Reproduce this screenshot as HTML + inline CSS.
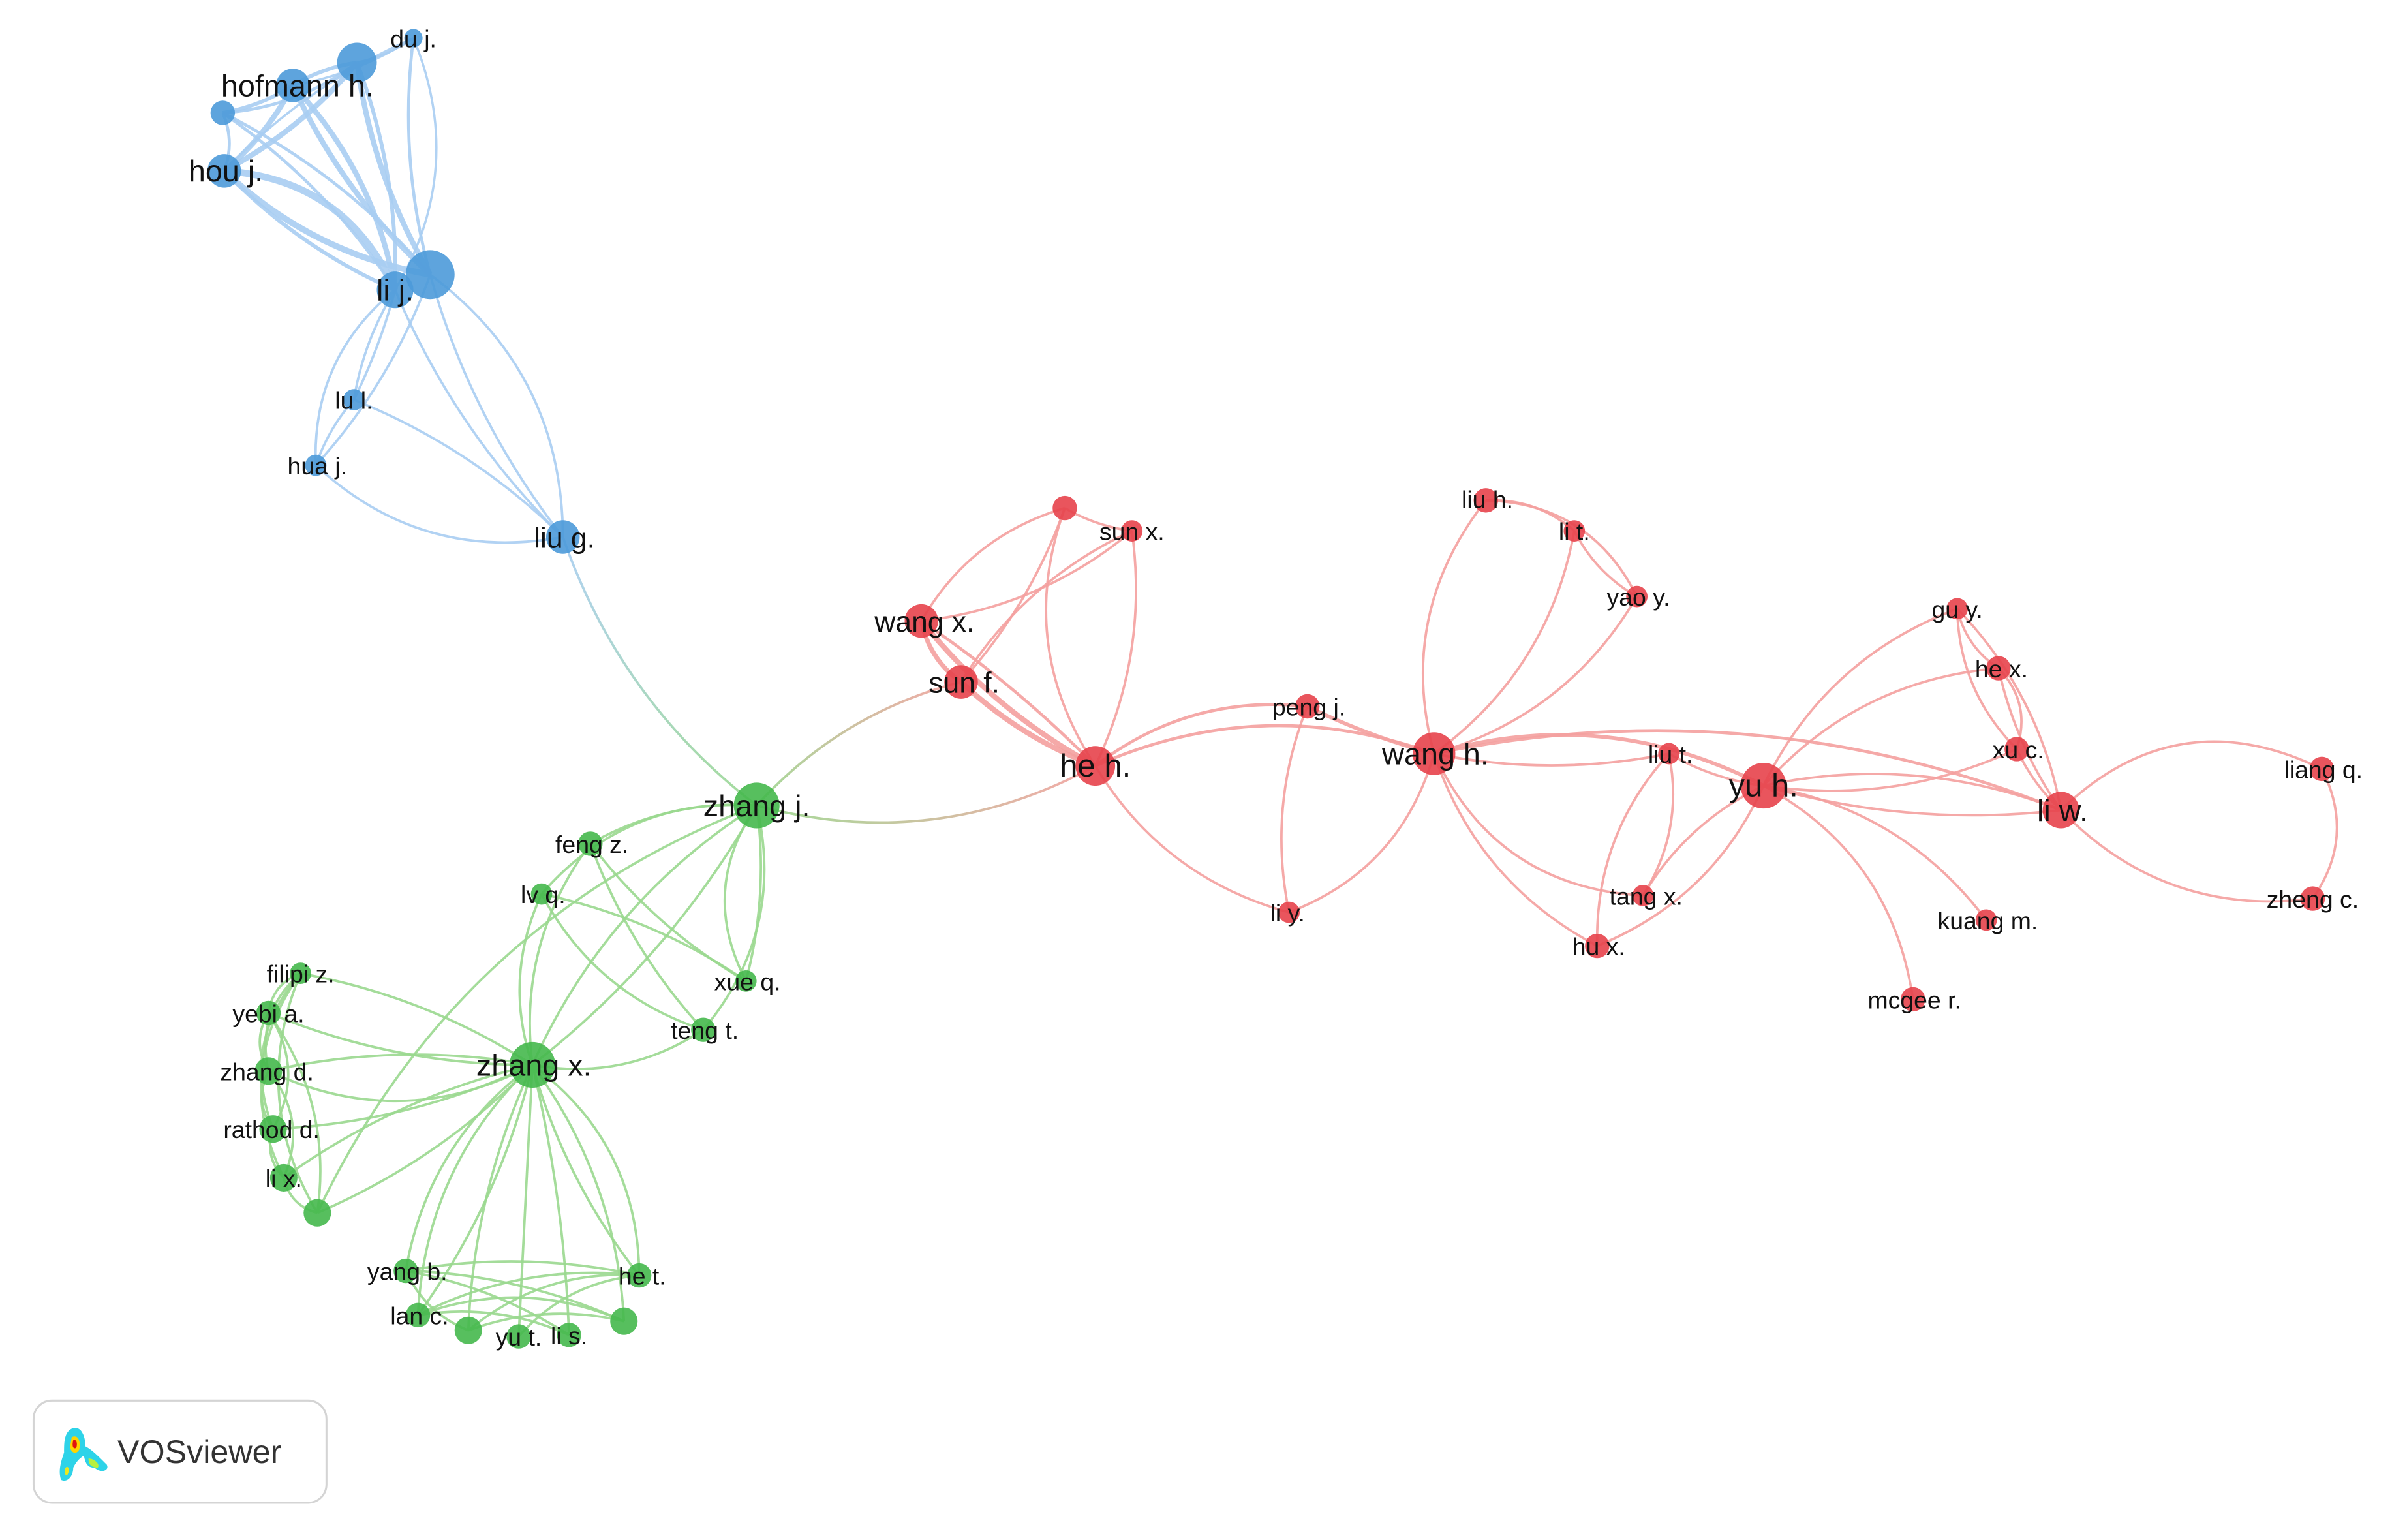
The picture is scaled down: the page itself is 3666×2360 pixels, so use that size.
<!DOCTYPE html>
<html><head><meta charset="utf-8">
<style>
html,body{margin:0;padding:0;background:#fff;}
svg{display:block;}
text{font-family:"Liberation Sans","DejaVu Sans",sans-serif;fill:#111;}
</style></head>
<body>
<svg id="g" width="3666" height="2360" viewBox="0 0 1568 1009.4" preserveAspectRatio="none" xmlns="http://www.w3.org/2000/svg">
<defs>
<linearGradient id="bg" x1="369" y1="352" x2="496" y2="528" gradientUnits="userSpaceOnUse"><stop offset="0" stop-color="#a9cdf2"/><stop offset="1" stop-color="#9ad88f"/></linearGradient>
<linearGradient id="gr" x1="496" y1="528" x2="718" y2="502" gradientUnits="userSpaceOnUse"><stop offset="0" stop-color="#9ad88f"/><stop offset="1" stop-color="#f4a09f"/></linearGradient>
<linearGradient id="gr2" x1="496" y1="528" x2="630" y2="447" gradientUnits="userSpaceOnUse"><stop offset="0" stop-color="#9ad88f"/><stop offset="1" stop-color="#f4a09f"/></linearGradient>
</defs>
<g id="edges" fill="none"></g>
<g id="nodes"></g>
<g id="labels">
<text x="271" y="31" font-size="16" text-anchor="middle">du j.</text>
<text x="195" y="63" font-size="20" text-anchor="middle">hofmann h.</text>
<text x="148" y="119" font-size="20" text-anchor="middle">hou j.</text>
<text x="259" y="197" font-size="20" text-anchor="middle">li j.</text>
<text x="232" y="268" font-size="16" text-anchor="middle">lu l.</text>
<text x="208" y="311" font-size="16" text-anchor="middle">hua j.</text>
<text x="370" y="359" font-size="19" text-anchor="middle">liu g.</text>
<text x="742" y="354" font-size="16" text-anchor="middle">sun x.</text>
<text x="606" y="414" font-size="19" text-anchor="middle">wang x.</text>
<text x="632" y="454" font-size="19" text-anchor="middle">sun f.</text>
<text x="718" y="509" font-size="21" text-anchor="middle">he h.</text>
<text x="858" y="469" font-size="16" text-anchor="middle">peng j.</text>
<text x="941" y="501" font-size="20" text-anchor="middle">wang h.</text>
<text x="844" y="604" font-size="16" text-anchor="middle">li y.</text>
<text x="975" y="333" font-size="16" text-anchor="middle">liu h.</text>
<text x="1032" y="354" font-size="16" text-anchor="middle">li t.</text>
<text x="1074" y="397" font-size="16" text-anchor="middle">yao y.</text>
<text x="1095" y="500" font-size="16" text-anchor="middle">liu t.</text>
<text x="1079" y="593" font-size="16" text-anchor="middle">tang x.</text>
<text x="1048" y="626" font-size="16" text-anchor="middle">hu x.</text>
<text x="1156" y="522" font-size="21" text-anchor="middle">yu h.</text>
<text x="1283" y="405" font-size="16" text-anchor="middle">gu y.</text>
<text x="1312" y="444" font-size="16" text-anchor="middle">he x.</text>
<text x="1323" y="497" font-size="16" text-anchor="middle">xu c.</text>
<text x="1352" y="538" font-size="20" text-anchor="middle">li w.</text>
<text x="1303" y="609" font-size="16" text-anchor="middle">kuang m.</text>
<text x="1255" y="661" font-size="16" text-anchor="middle">mcgee r.</text>
<text x="1523" y="510" font-size="16" text-anchor="middle">liang q.</text>
<text x="1516" y="595" font-size="16" text-anchor="middle">zheng c.</text>
<text x="496" y="535" font-size="20" text-anchor="middle">zhang j.</text>
<text x="388" y="559" font-size="16" text-anchor="middle">feng z.</text>
<text x="356" y="592" font-size="16" text-anchor="middle">lv q.</text>
<text x="490" y="649" font-size="16" text-anchor="middle">xue q.</text>
<text x="462" y="681" font-size="16" text-anchor="middle">teng t.</text>
<text x="350" y="705" font-size="20" text-anchor="middle">zhang x.</text>
<text x="197" y="644" font-size="16" text-anchor="middle">filipi z.</text>
<text x="176" y="670" font-size="16" text-anchor="middle">yebi a.</text>
<text x="175" y="708" font-size="16" text-anchor="middle">zhang d.</text>
<text x="178" y="746" font-size="16" text-anchor="middle">rathod d.</text>
<text x="186" y="778" font-size="16" text-anchor="middle">li x.</text>
<text x="267" y="839" font-size="16" text-anchor="middle">yang b.</text>
<text x="421" y="842" font-size="16" text-anchor="middle">he t.</text>
<text x="275" y="868" font-size="16" text-anchor="middle">lan c.</text>
<text x="340" y="882" font-size="16" text-anchor="middle">yu t.</text>
<text x="373" y="881" font-size="16" text-anchor="middle">li s.</text>
</g>
<g>
<rect x="22" y="918" width="192" height="67" rx="12" fill="#fff" stroke="#d4d4d4" stroke-width="1.3"/>
<path d="M46 937 C52 933 56 940 56 948 C60 950 64 954 70 960 C72 964 66 966 62 962 C58 962 56 960 55 954 C52 956 50 958 48 962 C48 968 44 972 40 970 C38 964 40 958 42 952 C42 946 42 940 46 937Z" fill="#2ed3e8"/>
<path d="M47 942 C51 940 53 944 52 950 C50 954 46 952 46 948Z" fill="#ffd400"/>
<path d="M48 944 C50 943 51 946 50 949 C48 950 47 948 48 944Z" fill="#e01010"/>
<path d="M43 962 C45 960 46 964 44 967 C42 967 42 964 43 962Z" fill="#e8e820"/>
<path d="M58 956 C62 956 66 960 64 962 C60 962 58 960 58 956Z" fill="#b8f040"/>
<text x="77" y="959" font-size="21.5" style="fill:#333">VOSviewer</text>
</g>
</svg>
<script>
var N={
dj:[271,25,6,'b'],bn:[234,41,13,'b'],hf:[192,56,11,'b'],bs:[146,74,8,'b'],hj:[147,112,11,'b'],lj:[259,190,12,'b'],lJ:[282,180,16,'b'],ll:[232,262,7,'b'],hu:[207,305,7,'b'],lg:[369,352,11,'b'],
rn:[698,333,8,'r'],sx:[742,348,7,'r'],wx:[604,407,11,'r'],sf:[630,447,11,'r'],hh:[718,502,13,'r'],pj:[857,463,8,'r'],wh:[940,494,14,'r'],ly:[845,598,7,'r'],lh:[974,328,8,'r'],lt:[1032,348,7,'r'],yy:[1073,391,7,'r'],lu:[1094,494,7,'r'],tx:[1077,587,7,'r'],hx:[1047,620,8,'r'],yh:[1156,515,15,'r'],gy:[1283,399,7,'r'],hex:[1310,438,8,'r'],xc:[1322,491,8,'r'],lw:[1351,531,12,'r'],km:[1302,603,7,'r'],mr:[1254,655,8,'r'],lq:[1522,504,8,'r'],zc:[1516,589,8,'r'],
zj:[496,528,15,'g'],fz:[387,553,8,'g'],lv:[355,586,7,'g'],xq:[489,643,7,'g'],tt:[461,675,8,'g'],zx:[349,698,15,'g'],fi:[197,638,7,'g'],ya:[176,664,8,'g'],zd:[176,702,9,'g'],rd:[179,740,9,'g'],lx:[186,772,9,'g'],g12:[208,795,9,'g'],yb:[266,833,8,'g'],ht:[419,836,8,'g'],lc:[274,862,8,'g'],g16:[307,872,9,'g'],yt:[340,876,8,'g'],ls:[373,875,8,'g'],g19:[409,866,9,'g']};
var E=[
['bn','dj',.1,1.5],['hf','dj',.1,1.5],['bn','hf',.1,2.5],['bs','hf',.1,2.5],['bs','bn',.15,2],['hj','hf',.1,3.5],['hj','bn',.1,3.5],['hj','bs',.2,2],['hj','dj',-.1,1.5],
['lJ','dj',-.1,2],['lj','dj',.25,1.5],['lJ','bn',-.1,3.5],['lj','bn',.1,2.5],['lJ','hf',-.1,3.5],['lj','hf',.15,3.5],['lJ','bs',.1,2],['lj','bs',.1,2],['lJ','hj',-.15,4],['lj','hj',.3,4.5],['lj','hj',-.1,2.5],
['lj','ll',.1,1.6],['lj','ll',-.05,1.6],['lj','hu',.25,1.6],['lJ','hu',-.1,1.6],['ll','hu',.1,1.6],['lJ','lg',-.25,1.6],['lJ','lg',.1,1.6],['lj','lg',.1,1.6],['ll','lg',-.1,1.6],['hu','lg',.25,1.6],
['rn','wx',.2],['rn','sf',-.1],['rn','hh',.25],['sx','wx',-.15],['sx','sf',.15],['sx','hh',-.15],['wx','sf',.2,3],['wx','hh',.1,3.5],['wx','hh',-.05,2],['sf','hh',.1,3.5],['rn','sx',.1],
['hh','pj',-.2,2],['hh','wh',-.2,2],['hh','ly',.2],['pj','wh',.05,2.5],['pj','ly',.15],['wh','ly',-.25],['wh','lh',-.25],['lh','lt',-.2],['lt','yy',.15],['wh','lt',.2],['wh','yy',.2],['lh','yy',-.3],
['wh','yh',-.2,2.5],['wh','lu',.1],['wh','tx',.3],['wh','hx',.2],['lu','hx',.2],['lu','tx',-.2],['yh','hx',-.2],['yh','tx',.15],['yh','lu',-.1],['wh','lw',-.15,2],
['yh','gy',-.2],['yh','hex',-.2],['yh','xc',.15],['yh','lw',.1],['yh','km',-.2],['yh','mr',-.25],['gy','hex',.2],['gy','xc',.2],['gy','lw',-.15],['hex','lw',.1],['xc','lw',.1],['hex','xc',-.3],['yh','lw',-.15],
['lw','lq',-.35],['lw','zc',.25],['lq','zc',-.3],
['zj','zx',.15],['zj','zx',-.1],['zj','fz',.15],['zj','lv',.25],['zj','xq',.3],['zj','tt',-.25],['zj','xq',-.1],['fz','zx',.2],['lv','zx',.2],['fz','xq',.1],['lv','xq',-.1],['lv','tt',.2],['zx','tt',.2],['fz','tt',.1],['zj','g12',.2],
['zx','fi',.1],['zx','ya',-.1],['zx','zd',.1],['zx','rd',-.1],['zx','lx',.1],['zx','g12',-.1],['zx','zd',-.25],
['fi','ya',.3],['fi','zd',.3],['fi','rd',.3],['fi','lx',.3],['fi','g12',.25],['ya','zd',.3],['ya','rd',-.3],['zd','rd',.3],['rd','lx',.3],['zd','lx',-.3],['lx','g12',.3],['ya','g12',-.2],
['zx','yb',.2],['zx','ht',-.25],['zx','lc',.2],['zx','g16',.1],['zx','yt',0],['zx','ls',-.05],['zx','g19',-.15],['zx','ht',.1],['zx','lc',-.1],
['yb','ht',-.1],['yb','g19',-.1],['lc','ht',-.15],['lc','g19',-.2],['g16','g19',-.15],['yt','ht',-.2],['yb','g16',.2],['lc','ls',-.15],['g16','ht',-.2],['yb','ls',-.1]
];
var col={b:'#a9cdf2',r:'#f4a09f',g:'#9ad88f'},nc={b:'#4d9ad9',r:'#e7434b',g:'#45b84c'};
var ns='http://www.w3.org/2000/svg',eg=document.getElementById('edges'),ng=document.getElementById('nodes');
function path(a,b,k,c,w){var dx=b[0]-a[0],dy=b[1]-a[1];var mx=(a[0]+b[0])/2-dy*k,my=(a[1]+b[1])/2+dx*k;var p=document.createElementNS(ns,'path');p.setAttribute('d','M'+a[0]+' '+a[1]+' Q'+mx+' '+my+' '+b[0]+' '+b[1]);p.setAttribute('stroke',c);p.setAttribute('stroke-width',w);p.setAttribute('stroke-opacity','0.9');eg.appendChild(p);}
E.forEach(function(e){var a=N[e[0]],b=N[e[1]];path(a,b,e[2],col[a[3]],e[3]||1.6);});
path(N.lg,N.zj,.15,'url(#bg)',1.6);path(N.zj,N.hh,.2,'url(#gr)',1.6);path(N.zj,N.sf,-.15,'url(#gr2)',1.6);
for(var k in N){var n=N[k];var c=document.createElementNS(ns,'circle');c.setAttribute('cx',n[0]);c.setAttribute('cy',n[1]);c.setAttribute('r',n[2]);c.setAttribute('fill',nc[n[3]]);c.setAttribute('fill-opacity','0.9');ng.appendChild(c);}
</script>
</body></html>
